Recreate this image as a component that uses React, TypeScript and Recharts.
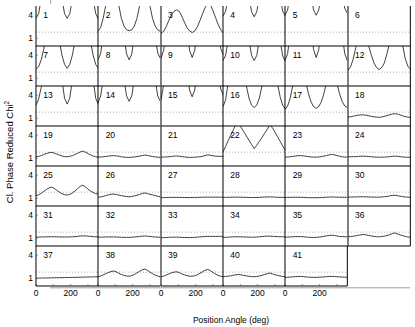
import React from 'react';
import { LineChart, Line, XAxis, YAxis, ReferenceLine } from 'recharts';

// Position angle samples (deg)
const angles = [0, 15, 30, 45, 60, 75, 90, 105, 120, 135, 150, 165, 180, 195, 210, 225, 240, 255, 270, 285, 300, 315, 330, 345, 360];

const xTicks = [0, 100, 200, 300];
const xTickLabels: Record<number, string> = { 0: '0', 100: '', 200: '200', 300: '' };
const yTicks = [1, 4];
const thresholdValue = 1.8;
const yDomain: [number, number] = [0, 5.2];
const xDomain: [number, number] = [0, 360];

const yTitle = 'Cl. Phase Reduced Chi';
const yTitleSup = '2';
const xTitle = 'Position Angle (deg)';

const p01 = [3.6, 4.2, 6.1, 9, 10, 10, 10, 10, 10, 9, 6.1, 4.2, 3.6, 4.2, 6.1, 9, 10, 10, 10, 10, 10, 9, 6.1, 4.2, 3.5];
const p02 = [1.9, 2.4, 3.6, 5.3, 8, 9, 9, 8, 5.3, 3.6, 2.6, 2.1, 2.0, 2.1, 2.6, 3.6, 5.2, 7.5, 9, 7.5, 5.2, 3.6, 2.6, 2.1, 1.9];
const p03 = [1.65, 1.9, 2.5, 3.3, 4.0, 4.5, 4.7, 4.5, 3.9, 3.1, 2.4, 1.95, 1.75, 1.95, 2.5, 3.3, 4.2, 5.0, 5.6, 5.4, 4.6, 3.7, 2.8, 2.1, 1.7];
const p04 = [3.9, 4.5, 6.4, 9, 10, 10, 10, 10, 10, 9, 6.4, 4.45, 3.8, 4.45, 6.4, 9, 10, 10, 10, 10, 10, 9, 6.4, 4.5, 3.9];
const p05 = [4.0, 4.7, 6.7, 9, 10, 10, 10, 10, 10, 9, 6.7, 4.7, 4.0, 4.7, 6.7, 9, 10, 10, 10, 10, 10, 9, 6.9, 4.9, 4.25];
const p06 = [6.5, 7, 8, 9, 10, 10, 10, 10, 10, 9, 8, 7, 6.5, 7, 8, 9, 10, 10, 10, 10, 10, 9, 8, 7, 6.5];
const p07 = [2.2, 2.5, 3.4, 4.8, 6.8, 8.5, 9.5, 8.5, 6.8, 5.8, 4.0, 2.8, 2.3, 2.8, 4.0, 5.8, 7.5, 9, 9.5, 9, 7.5, 5.8, 4.0, 2.8, 2.3];
const p08 = [3.4, 4.2, 6.5, 9, 10, 10, 10, 10, 10, 9, 6.5, 4.17, 3.4, 4.17, 6.5, 9, 10, 10, 10, 10, 10, 9, 6.4, 4.3, 3.6];
const p09 = [3.6, 4.6, 7.3, 10, 10, 10, 10, 10, 10, 10, 7.5, 4.65, 3.7, 4.65, 7.5, 10, 10, 10, 10, 10, 10, 10, 7.6, 4.9, 4.0];
const p10 = [3.3, 4.0, 6.0, 9, 10, 10, 10, 10, 10, 9, 6.0, 3.98, 3.3, 3.98, 6.0, 9, 10, 10, 10, 10, 10, 9, 5.9, 3.9, 3.2];
const p11 = [3.3, 4.2, 6.8, 10, 10, 10, 10, 10, 10, 10, 7.8, 4.73, 3.7, 4.73, 7.8, 10, 10, 10, 10, 10, 10, 10, 6.8, 4.2, 3.3];
const p12 = [2.05, 2.5, 3.5, 5.0, 6.8, 8.5, 9, 6.8, 5.2, 4.0, 3.0, 2.4, 2.15, 2.4, 3.0, 4.2, 5.6, 7.5, 9, 7.5, 6.5, 5.4, 3.6, 2.6, 2.2];
const p13 = [2.7, 3.5, 5.0, 8, 10, 10, 10, 10, 10, 8, 6.0, 3.6, 2.85, 3.6, 6.0, 8, 10, 10, 10, 10, 10, 8, 6.0, 3.6, 2.8];
const p14 = [3.0, 3.9, 6.1, 9, 10, 10, 10, 10, 10, 9, 6.1, 3.92, 3.2, 3.92, 6.1, 9, 10, 10, 10, 10, 10, 9, 6.1, 3.92, 3.2];
const p15 = [3.4, 5.3, 8, 10, 10, 10, 10, 10, 10, 10, 7.3, 4.68, 3.8, 4.68, 7.3, 10, 10, 10, 10, 10, 10, 10, 7.0, 4.8, 4.0];
const p16 = [2.5, 3.4, 5.6, 8, 10, 10, 10, 10, 7.4, 5.2, 3.64, 2.71, 2.4, 2.71, 3.64, 5.2, 7.4, 10, 10, 10, 7.4, 5.5, 3.8, 2.7, 2.2];
const p17 = [2.15, 2.6, 3.6, 5.3, 7.5, 9, 9.5, 9, 5.76, 4.24, 3.16, 2.52, 2.3, 2.52, 3.16, 4.24, 5.76, 8, 9.5, 8, 5.5, 4.2, 3.2, 2.6, 2.4];
const p18 = [1.15, 1.2, 1.28, 1.35, 1.42, 1.45, 1.45, 1.4, 1.32, 1.25, 1.2, 1.15, 1.13, 1.17, 1.25, 1.35, 1.45, 1.55, 1.6, 1.55, 1.45, 1.33, 1.22, 1.15, 1.1];
const p19 = [1.2, 1.25, 1.35, 1.5, 1.62, 1.72, 1.78, 1.68, 1.55, 1.42, 1.3, 1.22, 1.2, 1.25, 1.35, 1.5, 1.65, 1.82, 1.95, 1.8, 1.62, 1.45, 1.3, 1.2, 1.15];
const p20 = [1.15, 1.17, 1.2, 1.24, 1.29, 1.33, 1.35, 1.32, 1.27, 1.2, 1.15, 1.12, 1.12, 1.14, 1.18, 1.22, 1.28, 1.36, 1.42, 1.38, 1.3, 1.24, 1.18, 1.14, 1.13];
const p21 = [1.15, 1.16, 1.18, 1.2, 1.24, 1.28, 1.3, 1.27, 1.22, 1.18, 1.14, 1.12, 1.12, 1.14, 1.17, 1.2, 1.26, 1.36, 1.45, 1.4, 1.32, 1.28, 1.26, 1.25, 1.25];
const p22 = [1.85, 2.55, 3.3, 4.0, 4.7, 5.45, 5.55, 5.0, 4.45, 3.9, 3.35, 2.8, 2.25, 2.7, 3.2, 3.7, 4.25, 4.75, 5.3, 5.0, 4.4, 3.8, 3.2, 2.6, 2.05];
const p23 = [1.15, 1.17, 1.2, 1.25, 1.3, 1.34, 1.35, 1.32, 1.27, 1.22, 1.18, 1.15, 1.15, 1.17, 1.22, 1.28, 1.36, 1.45, 1.5, 1.45, 1.36, 1.28, 1.2, 1.16, 1.15];
const p24 = [1.2, 1.2, 1.21, 1.22, 1.25, 1.27, 1.28, 1.26, 1.23, 1.2, 1.17, 1.15, 1.15, 1.15, 1.16, 1.18, 1.21, 1.25, 1.28, 1.26, 1.22, 1.18, 1.15, 1.13, 1.12];
const p25 = [1.35, 1.45, 1.65, 1.9, 2.15, 2.35, 2.45, 2.3, 2.05, 1.8, 1.6, 1.47, 1.43, 1.5, 1.7, 1.95, 2.25, 2.55, 2.7, 2.5, 2.2, 1.95, 1.75, 1.6, 1.55];
const p26 = [1.13, 1.18, 1.25, 1.35, 1.45, 1.52, 1.55, 1.5, 1.42, 1.35, 1.28, 1.22, 1.2, 1.24, 1.32, 1.4, 1.5, 1.62, 1.7, 1.62, 1.52, 1.45, 1.35, 1.26, 1.2];
const p27 = [1.08, 1.09, 1.1, 1.11, 1.12, 1.12, 1.12, 1.12, 1.11, 1.1, 1.1, 1.1, 1.1, 1.11, 1.12, 1.13, 1.14, 1.15, 1.15, 1.15, 1.15, 1.15, 1.15, 1.15, 1.15];
const p28 = [1.12, 1.12, 1.13, 1.14, 1.15, 1.15, 1.15, 1.14, 1.13, 1.12, 1.11, 1.1, 1.1, 1.11, 1.12, 1.14, 1.16, 1.18, 1.18, 1.17, 1.15, 1.13, 1.12, 1.12, 1.12];
const p29 = [1.12, 1.12, 1.12, 1.13, 1.14, 1.14, 1.13, 1.12, 1.1, 1.09, 1.08, 1.08, 1.08, 1.09, 1.1, 1.12, 1.14, 1.16, 1.17, 1.16, 1.15, 1.14, 1.13, 1.13, 1.13];
const p30 = [1.15, 1.16, 1.17, 1.18, 1.2, 1.2, 1.2, 1.19, 1.17, 1.16, 1.15, 1.15, 1.15, 1.17, 1.2, 1.25, 1.31, 1.37, 1.4, 1.35, 1.28, 1.22, 1.17, 1.14, 1.12];
const p31 = [1.15, 1.16, 1.17, 1.18, 1.19, 1.2, 1.2, 1.2, 1.19, 1.18, 1.17, 1.17, 1.17, 1.18, 1.2, 1.22, 1.26, 1.3, 1.32, 1.31, 1.28, 1.25, 1.22, 1.2, 1.2];
const p32 = [1.15, 1.15, 1.16, 1.17, 1.18, 1.18, 1.18, 1.17, 1.15, 1.13, 1.12, 1.12, 1.12, 1.14, 1.17, 1.2, 1.24, 1.28, 1.3, 1.28, 1.24, 1.2, 1.17, 1.15, 1.15];
const p33 = [1.08, 1.09, 1.1, 1.12, 1.14, 1.15, 1.15, 1.14, 1.12, 1.11, 1.1, 1.1, 1.1, 1.12, 1.15, 1.18, 1.21, 1.24, 1.25, 1.25, 1.25, 1.25, 1.25, 1.25, 1.25];
const p34 = [1.12, 1.13, 1.15, 1.17, 1.19, 1.2, 1.2, 1.19, 1.18, 1.16, 1.15, 1.15, 1.15, 1.17, 1.2, 1.23, 1.26, 1.28, 1.28, 1.26, 1.24, 1.22, 1.2, 1.2, 1.2];
const p35 = [1.15, 1.16, 1.18, 1.2, 1.22, 1.22, 1.22, 1.2, 1.17, 1.14, 1.12, 1.12, 1.12, 1.15, 1.2, 1.26, 1.32, 1.37, 1.4, 1.36, 1.3, 1.25, 1.22, 1.2, 1.2];
const p36 = [1.2, 1.23, 1.27, 1.33, 1.4, 1.46, 1.5, 1.45, 1.38, 1.3, 1.25, 1.21, 1.2, 1.23, 1.28, 1.36, 1.46, 1.6, 1.7, 1.58, 1.45, 1.35, 1.25, 1.18, 1.15];
const p37 = [1.02, 1.02, 1.03, 1.04, 1.05, 1.05, 1.06, 1.07, 1.08, 1.08, 1.09, 1.1, 1.1, 1.11, 1.12, 1.12, 1.13, 1.14, 1.15, 1.16, 1.17, 1.18, 1.19, 1.2, 1.2];
const p38 = [1.2, 1.3, 1.45, 1.6, 1.75, 1.88, 1.95, 1.85, 1.65, 1.5, 1.38, 1.3, 1.28, 1.35, 1.5, 1.7, 1.9, 2.1, 2.2, 2.05, 1.8, 1.6, 1.42, 1.3, 1.2];
const p39 = [1.18, 1.28, 1.42, 1.57, 1.7, 1.8, 1.85, 1.75, 1.58, 1.45, 1.35, 1.28, 1.27, 1.33, 1.47, 1.65, 1.85, 2.05, 2.15, 2.0, 1.75, 1.55, 1.38, 1.27, 1.2];
const p40 = [1.2, 1.24, 1.28, 1.32, 1.4, 1.46, 1.5, 1.45, 1.38, 1.32, 1.26, 1.22, 1.2, 1.24, 1.3, 1.38, 1.48, 1.6, 1.68, 1.58, 1.45, 1.38, 1.3, 1.24, 1.2];
const p41 = [1.1, 1.13, 1.16, 1.19, 1.22, 1.24, 1.25, 1.22, 1.18, 1.15, 1.13, 1.12, 1.12, 1.14, 1.16, 1.18, 1.21, 1.24, 1.25, 1.23, 1.2, 1.18, 1.16, 1.15, 1.15];

const panelValues = [p01, p02, p03, p04, p05, p06, p07, p08, p09, p10, p11, p12, p13, p14, p15, p16, p17, p18, p19, p20, p21, p22, p23, p24, p25, p26, p27, p28, p29, p30, p31, p32, p33, p34, p35, p36, p37, p38, p39, p40, p41];
const panelNames = panelValues.map((_, i) => String(i + 1));

// layout
const GRID_LEFT = 36;
const GRID_TOP = 6;
const COL_W = 62.333;
const ROW_H = 40;
const NCOLS = 6;
const NROWS = 7;
const LEXT = 20;
const REXT = 10;
const BEXT = 20;
const FONT = '"Liberation Sans", Arial, Helvetica, sans-serif';
const FS = 8.5;

function Panel({ idx }: { idx: number }) {
  const col = idx % NCOLS;
  const row = Math.floor(idx / NCOLS);
  const isLeft = col === 0;
  const isBottom = row === NROWS - 1;
  const hasRight = col === NCOLS - 1 || idx === panelValues.length - 1;
  const data = angles.map((a, i) => ({ a, v: panelValues[idx][i] }));
  const tickStyle = { fontSize: FS, fill: '#000', fontFamily: FONT };
  return (
    <div style={{ position: 'absolute', left: GRID_LEFT + col * COL_W - LEXT, top: GRID_TOP + row * ROW_H }}>
      <LineChart width={COL_W + LEXT + REXT} height={ROW_H + BEXT} data={data} margin={{ top: 0, right: 0, bottom: 0, left: 0 }}>
        <XAxis
          dataKey="a"
          type="number"
          domain={xDomain}
          ticks={xTicks}
          interval={0}
          allowDataOverflow
          height={BEXT}
          axisLine={{ stroke: '#000', strokeWidth: 1 }}
          tickLine={{ stroke: '#555', strokeWidth: 0.6 }}
          tickSize={-2}
          tickMargin={6}
          tick={isBottom ? tickStyle : false}
          tickFormatter={(v: number) => xTickLabels[v] ?? ''}
        />
        <YAxis
          yAxisId="l"
          type="number"
          domain={yDomain}
          ticks={yTicks}
          interval={0}
          allowDataOverflow
          width={LEXT}
          axisLine={{ stroke: '#000', strokeWidth: 1 }}
          tickLine={{ stroke: '#555', strokeWidth: 0.6 }}
          tickSize={-2}
          tickMargin={5}
          tick={isLeft ? tickStyle : false}
        />
        <YAxis
          yAxisId="r"
          orientation="right"
          type="number"
          domain={yDomain}
          ticks={yTicks}
          interval={0}
          allowDataOverflow
          width={REXT}
          axisLine={hasRight ? { stroke: '#000', strokeWidth: 1 } : false}
          tickLine={hasRight ? { stroke: '#555', strokeWidth: 0.6 } : false}
          tickSize={-2}
          tick={false}
        />
        <ReferenceLine yAxisId="l" y={thresholdValue} stroke="#999" strokeWidth={0.8} strokeDasharray="1 2" />
        <Line
          yAxisId="l"
          type="linear"
          dataKey="v"
          stroke="#111"
          strokeWidth={0.8}
          dot={false}
          activeDot={false}
          isAnimationActive={false}
        />
      </LineChart>
    </div>
  );
}

export default function App() {
  const W = 415;
  const H = 327;
  return (
    <div style={{ position: 'absolute', left: 0, top: 0, width: W, height: H, background: '#fff', overflow: 'hidden' }}>
      {panelValues.map((_, i) => (
        <Panel key={i} idx={i} />
      ))}
      <svg width={W} height={H} style={{ position: 'absolute', left: 0, top: 0, pointerEvents: 'none' }}>
        {panelNames.map((name, i) => {
          const col = i % NCOLS;
          const row = Math.floor(i / NCOLS);
          return (
            <text
              key={name}
              x={GRID_LEFT + col * COL_W + 7.3}
              y={GRID_TOP + row * ROW_H + 12.3}
              fontSize={FS}
              fontFamily={FONT}
              fill="#000"
            >
              {name}
            </text>
          );
        })}
        <line x1={50} x2={410} y1={287.8} y2={287.8} stroke="#888" strokeWidth={0.8} />
        <line x1={50.7} x2={50.7} y1={0} y2={4} stroke="#888" strokeWidth={0.8} />
        <text
          transform="translate(12.5,152) rotate(-90)"
          textAnchor="middle"
          fontSize={9.5}
          fontFamily={FONT}
          fill="#000"
        >
          {yTitle}
          <tspan dy={-3.5} fontSize={6.5}>{yTitleSup}</tspan>
        </text>
        <text x={231} y={323} textAnchor="middle" fontSize={8.5} fontFamily={FONT} fill="#000">
          {xTitle}
        </text>
      </svg>
    </div>
  );
}
